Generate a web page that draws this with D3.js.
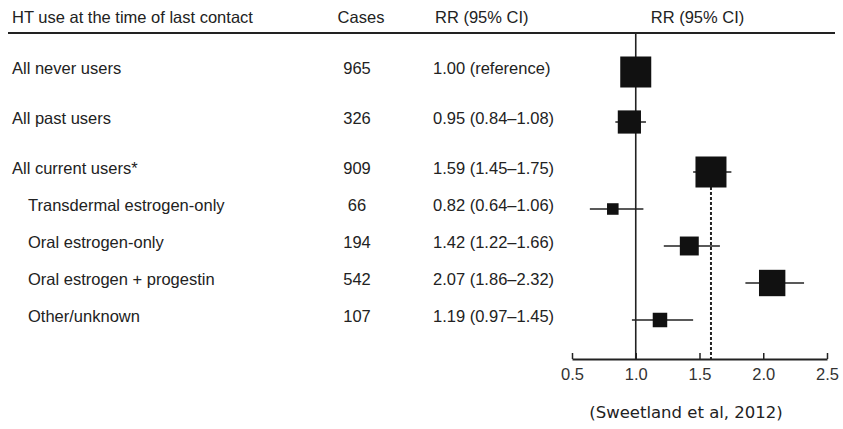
<!DOCTYPE html>
<html>
<head>
<meta charset="utf-8">
<script src="https://cdn.jsdelivr.net/npm/d3@7"></script>
<style>
  html, body { margin: 0; padding: 0; background: #fff; }
  svg { display: block; font-family: "Liberation Sans", Arial, sans-serif; }
</style>
</head>
<body>
<svg id="chart" width="843" height="429"></svg>
<script>
// Dados do gráfico
const labels = [
  "All never users",
  "All past users",
  "All current users*",
  "Transdermal estrogen-only",
  "Oral estrogen-only",
  "Oral estrogen + progestin",
  "Other/unknown"
];
const level = [0, 0, 0, 1, 1, 1, 1]; // 0 = grupo principal, 1 = subgrupo
const cases = [965, 326, 909, 66, 194, 542, 107];
const rr = [1.00, 0.95, 1.59, 0.82, 1.42, 2.07, 1.19];
const lower = [null, 0.84, 1.45, 0.64, 1.22, 1.86, 0.97];
const upper = [null, 1.08, 1.75, 1.06, 1.66, 2.32, 1.45];
const xTicks = [0.5, 1.0, 1.5, 2.0, 2.5];
const headers = ["HT use at the time of last contact", "Cases", "RR (95% CI)", "RR (95% CI)"];
const refValue = 1.0;
const currentIndex = 2; // linha tracejada em "All current users"
const source = "(Sweetland et al, 2012)";

const ink = "#222";
const fontSize = 16.5;
const svg = d3.select("#chart");

// Monta as linhas a partir dos arrays
const rows = labels.map((label, i) => ({
  i, label, level: level[i], cases: cases[i], rr: rr[i], lo: lower[i], hi: upper[i]
}));

// Escala do eixo x (RR)
const x = d3.scaleLinear().domain([0.5, 2.5]).range([572, 827]);
const axisY = 359;

// Posição vertical das linhas: grupos principais mais espaçados
const rowY = i => 68 + 50 * Math.min(i, 2) + 37 * Math.max(i - 2, 0);
const markOffset = 4;

// Tamanho do quadrado proporcional à precisão (1 / largura do IC em log)
rows.forEach(r => { r.weight = r.lo == null ? null : 1 / Math.log(r.hi / r.lo); });
const maxWeight = d3.max(rows, r => r.weight);
const size = d3.scaleLinear().domain([0, maxWeight]).range([0, 31]);

// Cabeçalho
const head = svg.append("g").attr("fill", ink).attr("font-size", fontSize);
head.append("text").attr("x", 12).attr("y", 17).attr("dy", "0.35em").text(headers[0]);
head.append("text").attr("x", 361).attr("y", 17).attr("dy", "0.35em").attr("text-anchor", "middle").text(headers[1]);
head.append("text").attr("x", 435).attr("y", 17).attr("dy", "0.35em").text(headers[2]);
head.append("text").attr("x", x(1.5) - 2).attr("y", 17).attr("dy", "0.35em").attr("text-anchor", "middle").text(headers[3]);

svg.append("line")
  .attr("x1", 8).attr("x2", 835).attr("y1", 33).attr("y2", 33)
  .attr("stroke", ink).attr("stroke-width", 2);

// Colunas de texto
const rowText = svg.append("g").attr("fill", ink).attr("font-size", fontSize)
  .selectAll("g").data(rows).join("g")
  .attr("transform", d => `translate(0,${rowY(d.i)})`);

rowText.append("text")
  .attr("x", d => d.level ? 28 : 12)
  .attr("dy", "0.35em")
  .text(d => d.label);

rowText.append("text")
  .attr("x", 357).attr("dy", "0.35em").attr("text-anchor", "middle")
  .text(d => d.cases);

rowText.append("text")
  .attr("x", 433).attr("dy", "0.35em")
  .text(d => d.lo == null
    ? d.rr.toFixed(2) + " (reference)"
    : `${d.rr.toFixed(2)} (${d.lo.toFixed(2)}\u2013${d.hi.toFixed(2)})`);

// Linha de referência RR = 1 e linha tracejada para todos os usuários atuais
svg.append("line")
  .attr("x1", x(refValue)).attr("x2", x(refValue))
  .attr("y1", 33).attr("y2", axisY)
  .attr("stroke", ink).attr("stroke-width", 1.6);

svg.append("line")
  .attr("x1", x(rr[currentIndex])).attr("x2", x(rr[currentIndex]))
  .attr("y1", rowY(currentIndex) + markOffset).attr("y2", axisY)
  .attr("stroke", ink).attr("stroke-width", 2)
  .attr("stroke-dasharray", "3,2");

// Intervalos de confiança e quadrados
const marks = svg.append("g")
  .selectAll("g").data(rows).join("g")
  .attr("transform", d => `translate(0,${rowY(d.i) + markOffset})`);

marks.filter(d => d.lo != null).append("line")
  .attr("x1", d => x(d.lo))
  .attr("x2", d => x(d.hi))
  .attr("stroke", ink).attr("stroke-width", 1.5);

marks.append("rect")
  .each(function (d) {
    const s = size(d.weight == null ? maxWeight : d.weight);
    d3.select(this)
      .attr("x", x(d.rr) - s / 2).attr("y", -s / 2)
      .attr("width", s).attr("height", s);
  })
  .attr("fill", "#111");

// Eixo x com marcas para cima
const axis = svg.append("g")
  .attr("transform", `translate(0,${axisY})`)
  .call(d3.axisBottom(x).tickValues(xTicks).tickFormat(d3.format(".1f")).tickSize(-6).tickSizeOuter(0).tickPadding(9));

axis.select(".domain").attr("stroke", ink).attr("stroke-width", 2);
axis.selectAll(".tick line").attr("stroke", ink).attr("stroke-width", 1.5);
axis.selectAll(".tick text")
  .attr("fill", "#333")
  .attr("font-size", fontSize)
  .attr("font-family", "Liberation Sans, Arial, sans-serif");

// Fonte
svg.append("text")
  .attr("x", 686).attr("y", 412).attr("dy", "0.35em")
  .attr("text-anchor", "middle")
  .attr("font-family", "'DejaVu Sans', sans-serif")
  .attr("font-size", 16.5)
  .attr("fill", "#222")
  .text(source);
</script>
</body>
</html>
